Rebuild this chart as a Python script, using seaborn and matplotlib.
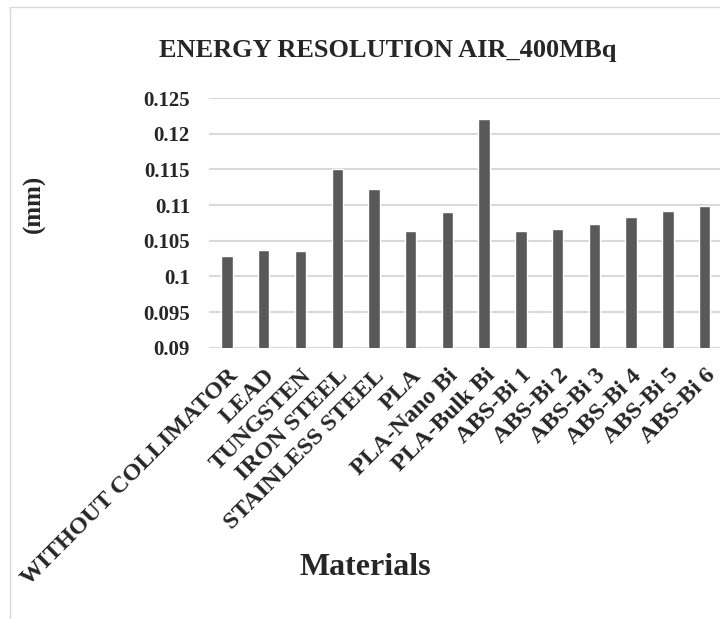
import matplotlib
matplotlib.use("Agg")
import matplotlib.pyplot as plt
from matplotlib.lines import Line2D
import seaborn as sns
import pandas as pd

categories = ["WITHOUT COLLIMATOR", "LEAD", "TUNGSTEN", "IRON STEEL", "STAINLESS STEEL",
              "PLA", "PLA-Nano Bi", "PLA-Bulk Bi", "ABS-Bi 1", "ABS-Bi 2", "ABS-Bi 3",
              "ABS-Bi 4", "ABS-Bi 5", "ABS-Bi 6"]
values = [0.1028, 0.1037, 0.1035, 0.1151, 0.1122, 0.1064, 0.1090, 0.1221,
          0.1063, 0.1066, 0.1073, 0.1083, 0.1091, 0.1099]
yticks = [0.09, 0.095, 0.1, 0.105, 0.11, 0.115, 0.12, 0.125]
ytick_labels = ["0.09", "0.095", "0.1", "0.105", "0.11", "0.115", "0.12", "0.125"]
title = "ENERGY RESOLUTION AIR_400MBq"
xlabel = "Materials"
ylabel = "(mm)"

sns.set_style("white")
plt.rcParams["font.family"] = ["Liberation Serif", "DejaVu Serif"]
plt.rcParams["font.weight"] = "bold"

W, H = 720, 619
fig = plt.figure(figsize=(W / 100, H / 100), dpi=100)

# chart-area border (left and top visible)
fig.add_artist(Line2D([10 / W, 10 / W], [0, 1 - 7 / H], transform=fig.transFigure,
                      color="#d9d9d9", lw=1.0))
fig.add_artist(Line2D([10 / W, 1], [1 - 7 / H, 1 - 7 / H], transform=fig.transFigure,
                      color="#d9d9d9", lw=1.0))

left, right = 208.6, 723.0
bottom, top = 347.7, 98.0
ax = fig.add_axes([left / W, 1 - bottom / H, (right - left) / W, (bottom - top) / H])

df = pd.DataFrame({"Material": categories, "Value": values})
sns.barplot(data=df, x="Material", y="Value", color="#595959", width=0.31,
            saturation=1, ax=ax, zorder=3)

ax.set_ylim(0.09, 0.125)
ax.set_xlim(-0.5, len(categories) - 0.5)
ax.set_yticks(yticks)
ax.set_yticklabels(ytick_labels, fontsize=15, fontweight="bold")
ax.yaxis.grid(True, color="#d9d9d9", lw=1.5, zorder=0)
ax.set_axisbelow(True)
for s in ax.spines.values():
    s.set_visible(False)
ax.tick_params(axis="y", length=0, pad=13.4)
ax.tick_params(axis="x", length=0, pad=12.5)
ax.set_xticks(range(len(categories)))
ax.set_xticklabels(categories, rotation=45, ha="right", va="top",
                   rotation_mode="anchor", fontsize=17.5, fontweight="bold")
ax.set_xlabel("")
ax.set_ylabel("")

fig.text(387.5 / W, 1 - 56.7 / H, title, ha="center", va="baseline",
         fontsize=19, fontweight="bold")
fig.text(365 / W, 1 - 575 / H, xlabel, ha="center", va="baseline",
         fontsize=23, fontweight="bold")
fig.text(34.2 / W, 1 - 204 / H, ylabel, ha="center", va="center", rotation=90,
         fontsize=18, fontweight="bold")

fig.savefig("out.png", dpi=100, facecolor="white")
